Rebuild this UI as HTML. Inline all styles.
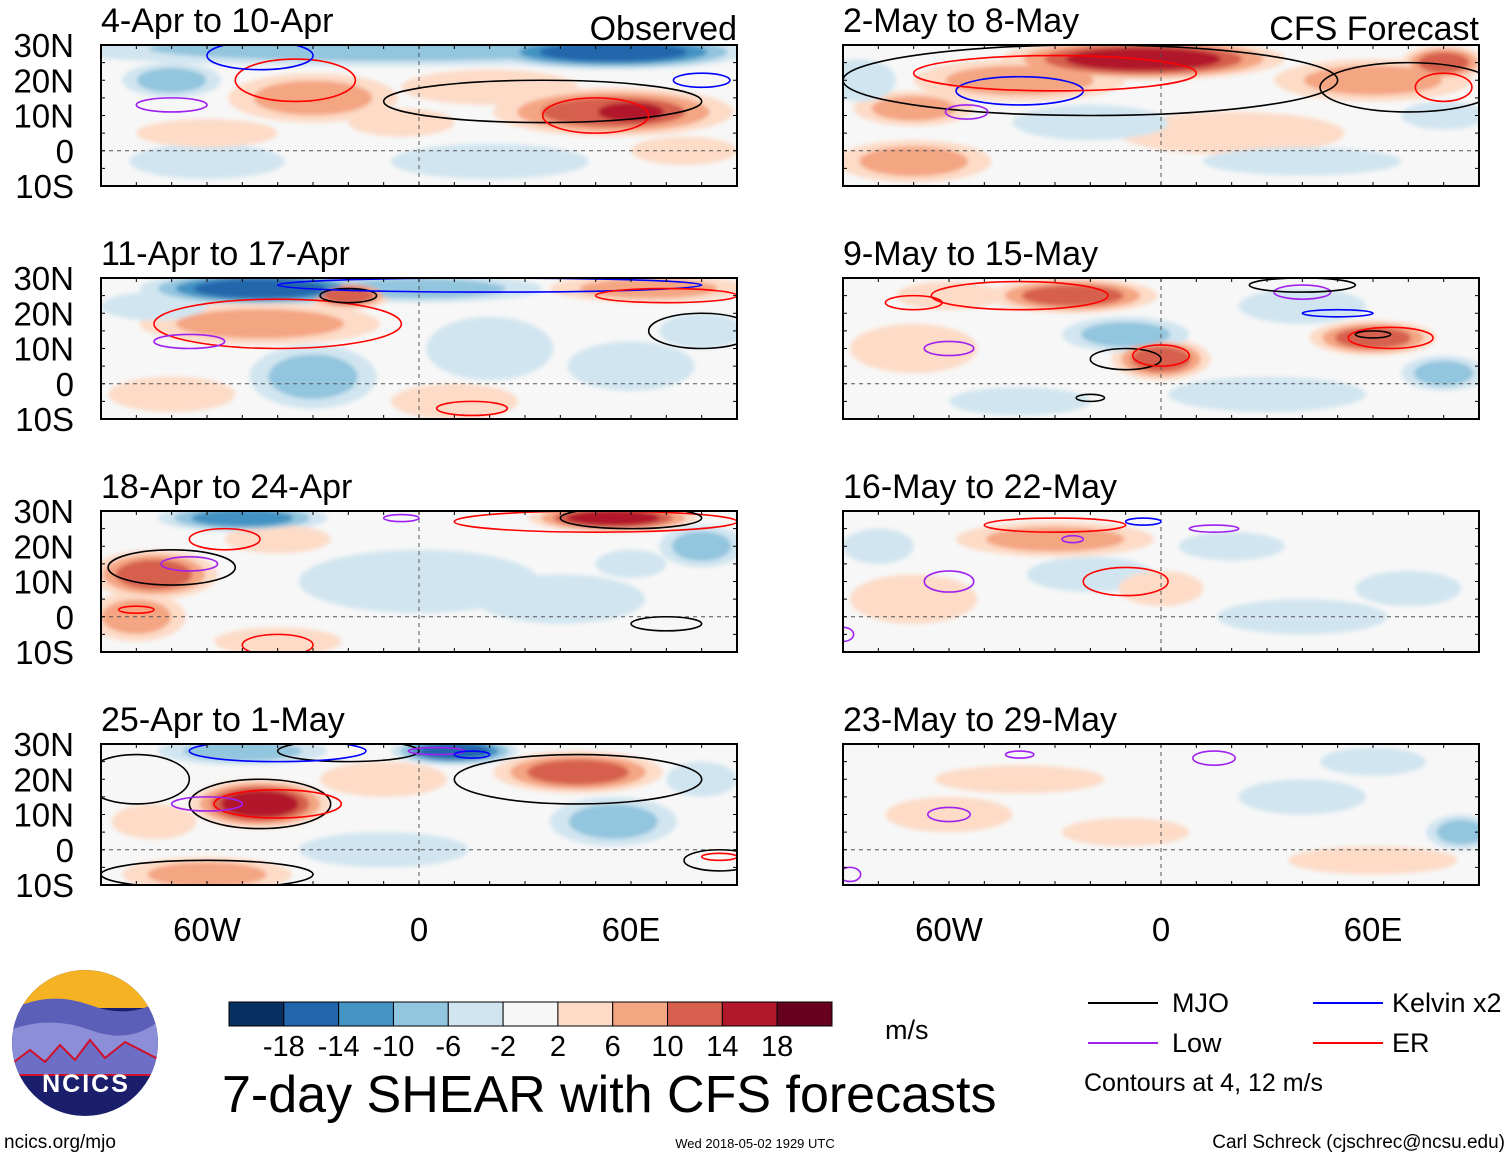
<!DOCTYPE html>
<html><head><meta charset="utf-8"><style>
body{margin:0;background:#fff;font-family:"Liberation Sans",sans-serif}
svg text{font-family:"Liberation Sans",sans-serif}
</style></head><body>
<svg id="chart" width="1510" height="1158" viewBox="0 0 1510 1158" xmlns="http://www.w3.org/2000/svg">
<defs><filter id="bl" x="-20%" y="-20%" width="140%" height="140%"><feGaussianBlur stdDeviation="2"/></filter></defs>
<g id="panels"></g>
<g id="cbar"></g>
<g font-size="27">
<line x1="1088" y1="1003" x2="1158" y2="1003" stroke="#000" stroke-width="2"/><text x="1172" y="1012">MJO</text>
<line x1="1088" y1="1043" x2="1158" y2="1043" stroke="#a020f0" stroke-width="2"/><text x="1172" y="1052">Low</text>
<line x1="1313" y1="1003" x2="1383" y2="1003" stroke="#0000ff" stroke-width="2"/><text x="1392" y="1012">Kelvin x2</text>
<line x1="1313" y1="1043" x2="1383" y2="1043" stroke="#ff0000" stroke-width="2"/><text x="1392" y="1052">ER</text>
<text x="1084" y="1091" font-size="25">Contours at 4, 12 m/s</text>
</g>
<text x="885" y="1039" font-size="27">m/s</text>
<text x="222" y="1112" font-size="52">7-day SHEAR with CFS forecasts</text>
<text x="4" y="1148" font-size="19">ncics.org/mjo</text>
<text x="755" y="1148" font-size="13" text-anchor="middle">Wed 2018-05-02 1929 UTC</text>
<text x="1505" y="1148" font-size="19" text-anchor="end">Carl Schreck (cjschrec@ncsu.edu)</text>
<g>
<clipPath id="lc"><circle cx="85" cy="1043" r="73"/></clipPath>
<g clip-path="url(#lc)">
<rect x="10" y="968" width="150" height="150" fill="#1b1f6b"/>
<rect x="10" y="968" width="150" height="40" fill="#f5b324"/>
<path d="M10 1010 Q50 990 90 1005 T160 1000 V1040 H10Z" fill="#5b5fb8"/>
<path d="M10 1030 Q50 1015 90 1030 T160 1020 V1060 H10Z" fill="#8c8fd8"/>
<path d="M10 1065 L30 1050 L45 1062 L60 1045 L75 1060 L90 1040 L105 1058 L125 1042 L160 1060 V1075 H10Z" fill="#6d6fc6" stroke="#d0102a" stroke-width="2"/>
</g>
<text x="86" y="1092" font-size="25" font-weight="bold" fill="#fff" text-anchor="middle" letter-spacing="2">NCICS</text>
</g>
</svg>
<script>
const panelTitles=["4-Apr to 10-Apr","2-May to 8-May","11-Apr to 17-Apr","9-May to 15-May","18-Apr to 24-Apr","16-May to 22-May","25-Apr to 1-May","23-May to 29-May"];
const latTicks=[30,20,10,0,-10];
const latLabels=["30N","20N","10N","0","10S"];
const lonTicks=[-60,0,60];
const lonLabels=["60W","0","60E"];
const levels=[-18,-14,-10,-6,-2,2,6,10,14,18];
const levelLabels=["-18","-14","-10","-6","-2","2","6","10","14","18"];
const colors=["#053061","#2166ac","#4393c3","#92c5de","#d1e5f0","#f7f7f7","#fddbc7","#f4a582","#d6604d","#b2182b","#67001f"];
// [panel, lon, lat, rxDeg, ryDeg, value]
const blobs=[
[0,-10,29,95,5,-8],[0,55,28,38,5,-18],[0,-70,20,14,5,-7],[0,-30,15,24,7,7],[0,55,11,34,7,12],[0,60,11,17,5,17],[0,20,-3,28,5,-4],[0,-60,-3,22,5,-4],[0,20,18,25,5,5],[0,-60,5,20,4,3],[0,75,0,15,4,4],[0,-5,8,15,4,3],
[1,-5,26,40,6,17],[1,-40,20,30,6,9],[1,-70,12,17,5,7],[1,-70,-3,22,6,7],[1,20,5,32,6,5],[1,60,20,28,6,7],[1,80,25,12,5,11],[1,-20,8,22,5,-5],[1,40,-3,28,4,-4],[1,80,10,12,4,-4],[1,-85,20,10,6,-4],
[2,-45,27,34,5,-18],[2,0,27,35,4,-7],[2,-45,17,34,6,7],[2,-20,25,12,4,11],[2,65,27,28,4,9],[2,-30,2,18,9,-7],[2,20,10,18,9,-5],[2,60,5,18,7,-5],[2,10,-5,18,5,5],[2,-70,-3,18,5,5],[2,-75,22,15,4,-4],[2,80,15,12,5,-4],
[3,-25,25,24,5,11],[3,0,7,14,6,13],[3,60,13,18,5,11],[3,-10,14,18,5,-7],[3,80,3,12,5,-7],[3,-70,10,18,7,5],[3,30,-3,28,5,-4],[3,40,22,18,5,-5],[3,-60,25,15,4,5],[3,-40,-5,20,4,-3],
[4,-75,12,18,7,13],[4,-80,0,14,7,7],[4,-50,28,24,4,-11],[4,55,28,24,4,15],[4,80,20,12,6,-9],[4,0,10,34,9,-4],[4,40,5,24,7,-4],[4,-40,-7,18,4,5],[4,-40,22,15,4,5],[4,60,15,10,4,-4],
[5,-30,22,28,5,6],[5,-20,12,18,5,-6],[5,70,8,15,5,-6],[5,0,8,12,5,5],[5,-70,5,18,7,4],[5,40,0,24,5,-4],[5,20,20,15,4,-3],[5,-80,20,10,5,-3],
[6,-45,13,20,7,15],[6,45,22,24,6,11],[6,10,28,18,4,-15],[6,-50,28,24,4,-7],[6,-60,-7,24,5,9],[6,55,8,18,7,-7],[6,-10,0,24,5,-4],[6,-75,8,12,5,5],[6,-10,20,18,5,4],[6,80,20,10,5,-4],
[7,-60,10,18,5,5],[7,85,5,10,5,-7],[7,40,15,18,5,-4],[7,-40,20,24,4,4],[7,60,-3,24,4,4],[7,-10,5,18,4,3],[7,60,25,15,4,-3]
];
// [panel, type, lon, lat, rxDeg, ryDeg]
const contours=[
[0,"er",-35,20,17,6],[0,"kelvin",-45,27,15,4],[0,"low",-70,13,10,2],[0,"mjo",35,14,45,6],[0,"er",50,10,15,5],[0,"kelvin",80,20,8,2],
[1,"mjo",-20,20,70,10],[1,"kelvin",-40,17,18,4],[1,"er",-30,22,40,5],[1,"low",-55,11,6,2],[1,"mjo",70,18,25,7],[1,"er",80,18,8,4],
[2,"er",-40,17,35,7],[2,"low",-65,12,10,2],[2,"mjo",-20,25,8,2],[2,"kelvin",20,28,60,2],[2,"er",70,25,20,2],[2,"mjo",80,15,15,5],[2,"er",15,-7,10,2],
[3,"er",-40,25,25,4],[3,"er",-70,23,8,2],[3,"mjo",-10,7,10,3],[3,"er",0,8,8,3],[3,"er",65,13,12,3],[3,"mjo",60,14,5,1],[3,"low",-60,10,7,2],[3,"kelvin",50,20,10,1],[3,"low",40,26,8,2],[3,"mjo",40,28,15,2],[3,"mjo",-20,-4,4,1],
[4,"mjo",-70,14,18,5],[4,"low",-65,15,8,2],[4,"er",-55,22,10,3],[4,"er",50,27,40,3],[4,"mjo",60,28,20,3],[4,"mjo",70,-2,10,2],[4,"er",-40,-8,10,3],[4,"low",-5,28,5,1],[4,"er",-80,2,5,1],
[5,"er",-30,26,20,2],[5,"low",-25,22,3,1],[5,"low",15,25,7,1],[5,"kelvin",-5,27,5,1],[5,"er",-10,10,12,4],[5,"low",-60,10,7,3],[5,"low",-90,-5,3,2],
[6,"mjo",-45,13,20,7],[6,"er",-40,13,18,4],[6,"low",-60,13,10,2],[6,"mjo",45,20,35,7],[6,"mjo",-80,20,15,7],[6,"mjo",-20,28,20,3],[6,"kelvin",-40,28,25,3],[6,"low",5,28,8,1],[6,"kelvin",15,27,5,1],[6,"mjo",-60,-7,30,4],[6,"mjo",85,-3,10,3],[6,"er",85,-2,5,1],
[7,"low",-60,10,6,2],[7,"low",15,26,6,2],[7,"low",-40,27,4,1],[7,"low",-88,-7,3,2]
];
const lineColors={mjo:"#000",low:"#a020f0",kelvin:"#0000ff",er:"#ff0000"};
const NS="http://www.w3.org/2000/svg";
function mk(t,a,p){const e=document.createElementNS(NS,t);for(const k in a)e.setAttribute(k,a[k]);p.appendChild(e);return e;}
const PW=636,PH=141,colX=[101,843],rowY=[45,278,511,744];
function geo(p){const x0=colX[p%2],y0=rowY[Math.floor(p/2)];
 return{x0,y0,x:l=>x0+(l+90)/180*PW,y:la=>y0+(30-la)/40*PH,sx:d=>d/180*PW,sy:d=>d/40*PH};}
function bin(v){let i=0;while(i<levels.length&&v>=levels[i])i++;return i;}
const root=document.getElementById('panels');
for(let p=0;p<8;p++){
 const g=geo(p);
 const pg=mk('g',{},root);
 
 
 const cp=mk('clipPath',{id:'c'+p},pg);
 mk('rect',{x:g.x0,y:g.y0,width:PW,height:PH},cp);
 const fg=mk('g',{'clip-path':'url(#c'+p+')'},pg);
 mk('rect',{x:g.x0,y:g.y0,width:PW,height:PH,fill:colors[5]},fg);
 const sg=mk('g',{filter:'url(#bl)'},fg);
 const pb=blobs.filter(b=>b[0]===p);
 for(let k=1;k<=5;k++){
  pb.forEach(b=>{const v=b[5],n=Math.abs(bin(v)-5);if(k>n)return;
   const s=1-(k-1)/n*0.6;const ci=5+Math.sign(v)*k;
   const e=mk('ellipse',{cx:g.x(b[1]),cy:g.y(b[2]),rx:g.sx(b[3])*s,ry:g.sy(b[4])*s,fill:colors[ci]},sg);
   
   });
 }
 mk('line',{x1:g.x0,x2:g.x0+PW,y1:g.y(0),y2:g.y(0),stroke:'#555','stroke-dasharray':'4,4','stroke-width':1},fg);
 mk('line',{x1:g.x(0),x2:g.x(0),y1:g.y0,y2:g.y0+PH,stroke:'#555','stroke-dasharray':'4,4','stroke-width':1},fg);
 contours.filter(c=>c[0]===p).forEach(c=>{
  const e=mk('ellipse',{cx:g.x(c[2]),cy:g.y(c[3]),rx:g.sx(c[4]),ry:g.sy(c[5]),fill:'none',stroke:lineColors[c[1]],'stroke-width':1.6},fg);
  
  });
 mk('rect',{x:g.x0,y:g.y0,width:PW,height:PH,fill:'none',stroke:'#000','stroke-width':2},pg);
 for(let l=-90;l<=90;l+=10){mk('line',{x1:g.x(l),x2:g.x(l),y1:g.y0,y2:g.y0+4,stroke:'#000'},pg);mk('line',{x1:g.x(l),x2:g.x(l),y1:g.y0+PH,y2:g.y0+PH-4,stroke:'#000'},pg);}
 for(let la=-10;la<=30;la+=5){mk('line',{x1:g.x0,x2:g.x0+4,y1:g.y(la),y2:g.y(la),stroke:'#000'},pg);mk('line',{x1:g.x0+PW,x2:g.x0+PW-4,y1:g.y(la),y2:g.y(la),stroke:'#000'},pg);}
 const t=mk('text',{x:g.x0,y:g.y0-13,'font-size':34},pg);t.textContent=panelTitles[p];
 
 
 if(p<2){const o=mk('text',{x:g.x0+PW,y:g.y0-5,'font-size':34,'text-anchor':'end'},pg);o.textContent=p===0?"Observed":"CFS Forecast";
  
  }
 if(p%2===0){latTicks.forEach((la,i)=>{const tt=mk('text',{x:74,y:g.y(la)+12,'font-size':33,'text-anchor':'end'},pg);tt.textContent=latLabels[i];
  
  });}
 if(p>=6){lonTicks.forEach((l,i)=>{const tt=mk('text',{x:g.x(l),y:941,'font-size':33,'text-anchor':'middle'},pg);tt.textContent=lonLabels[i];
  
  });}
}
const cb=document.getElementById('cbar');const bw=(832-229)/colors.length;
colors.forEach((c,i)=>{const r=mk('rect',{x:229+i*bw,y:1002,width:bw,height:24,fill:c,stroke:'#000','stroke-width':1},cb);
 
 });
levelLabels.forEach((s,i)=>{const t=mk('text',{x:229+(i+1)*bw,y:1056,'font-size':29,'text-anchor':'middle'},cb);t.textContent=s;
 
 });
</script>
</body></html>
